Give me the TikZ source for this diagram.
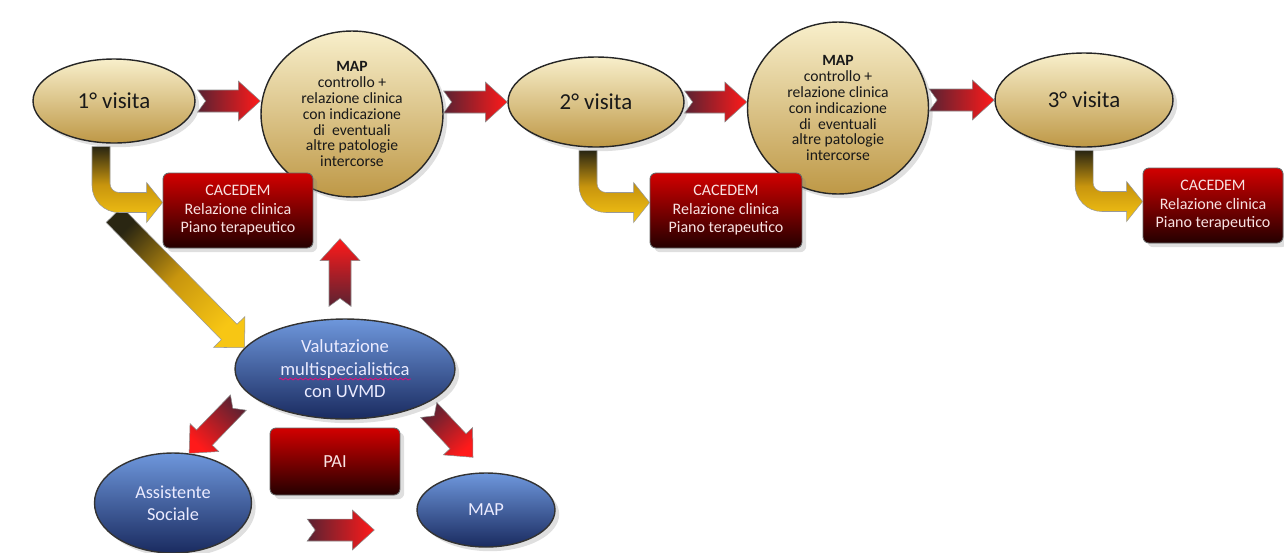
\documentclass[tikz,border=0pt]{standalone}
\usepackage{fontspec}
\setmainfont{Carlito}
\usepackage{tikz}
\usetikzlibrary{shapes.geometric, shadows, calc, decorations.pathmorphing}

\definecolor{goldtop}{HTML}{F8EFCB}
\definecolor{goldbot}{HTML}{BE9846}
\definecolor{rottop}{HTML}{D20000}
\definecolor{rotbot}{HTML}{240000}
\definecolor{blautop}{HTML}{6E97DC}
\definecolor{blaubot}{HTML}{1A2B60}
\definecolor{pfeilrot}{HTML}{FF1A1A}
\definecolor{pfeildunkel}{HTML}{5A2232}
\definecolor{gelbdunkel}{HTML}{2A2612}
\definecolor{gelbmitte}{HTML}{C8950E}
\definecolor{gelbhell}{HTML}{F7C614}
\definecolor{hellrosa}{HTML}{F8E2E2}

% Masse der Blockpfeile
\newcommand{\pfsw}{0.22cm} % halbe Schaftbreite
\newcommand{\pfhw}{0.40cm} % halbe Spitzenbreite
\newcommand{\pfhl}{0.44cm} % Spitzenlaenge
\newcommand{\pfnd}{0.16cm} % Kerbe am Ende

% Blockpfeil mit Kerbe: [Stil]{von}{nach}
\newcommand{\blockarrow}[3][]{%
	\coordinate (pf-s) at (#2);
	\coordinate (pf-e) at (#3);
	\coordinate (pf-h) at ($(pf-e)!\pfhl!(pf-s)$);
	\shadedraw[redarrow,#1] ($(pf-s)!\pfsw!90:(pf-e)$) -- ($(pf-s)!\pfnd!(pf-e)$) -- ($(pf-s)!\pfsw!-90:(pf-e)$)
		-- ($(pf-h)!\pfsw!-90:(pf-e)$) -- ($(pf-h)!\pfhw!-90:(pf-e)$) -- (pf-e)
		-- ($(pf-h)!\pfhw!90:(pf-e)$) -- ($(pf-h)!\pfsw!90:(pf-e)$) -- cycle;
}

% Knickpfeil nach unten und rechts: {von}{nach}
\newcommand{\bentarrow}[2]{%
	\coordinate (kp-a) at (#1);
	\coordinate (kp-t) at (#2);
	\coordinate (kp-c) at (kp-a |- kp-t);
	\shadedraw[goldarrow] ($(kp-a)+(-9,0)$) [rounded corners=0.54cm] -- ($(kp-c)+(-9,10)$) [sharp corners]
		-- ($(kp-t)+(-16,10)$) -- ($(kp-t)+(-16,20)$) -- (kp-t) -- ($(kp-t)+(-16,-20)$)
		-- ($(kp-t)+(-16,-10)$) [rounded corners=0.18cm] -- ($(kp-c)+(9,-10)$) [sharp corners] -- ($(kp-a)+(9,0)$) -- cycle;
}

\begin{document}
\begin{tikzpicture}[x=0.02cm, y=-0.02cm,
			visit/.style={ellipse, draw=black!85, line width=0.8pt, top color=goldtop, bottom color=goldbot,
				text=black!90, inner sep=1pt, align=center, drop shadow={opacity=0.25}},
			redbox/.style={rectangle, rounded corners=0.12cm, draw=black!60, line width=0.5pt, top color=rottop,
				bottom color=rotbot, text=hellrosa, align=center, drop shadow={opacity=0.25}},
			blueoval/.style={ellipse, draw=black!80, line width=0.8pt, top color=blautop, bottom color=blaubot,
				text=white!92!blue, inner sep=1pt, align=center, drop shadow={opacity=0.25}},
			redarrow/.style={top color=pfeildunkel, bottom color=pfeilrot, shading angle=90, draw=black!45, line width=0.3pt},
			goldarrow/.style={top color=gelbdunkel, bottom color=gelbhell, middle color=gelbmitte, draw=black!40, line width=0.3pt},
			font=\fontsize{9.1}{10.5}\selectfont]
			\useasboundingbox (0,0) rectangle (1284,552);
			% Visiten und MAP
			\node[visit, minimum width=3.24cm, minimum height=1.68cm, font=\fontsize{13}{15}\selectfont] (v1) at (114,101) {1° visita};
			\node[visit, minimum width=3.64cm, minimum height=3.32cm, font=\fontsize{8.9}{9.1}\selectfont] (m1) at (352,114)
				{\textbf{MAP}\\controllo +\\relazione clinica\\con indicazione\\di\ \ eventuali\\altre patologie\\intercorse};
			\node[visit, minimum width=3.52cm, minimum height=1.80cm, font=\fontsize{13}{15}\selectfont] (v2) at (596,102) {2° visita};
			\node[visit, minimum width=3.62cm, minimum height=3.44cm, font=\fontsize{8.9}{9.1}\selectfont] (m2) at (838,108)
				{\textbf{MAP}\\controllo +\\relazione clinica\\con indicazione\\di\ \ eventuali\\altre patologie\\intercorse};
			\node[visit, minimum width=3.56cm, minimum height=1.88cm, font=\fontsize{13}{15}\selectfont] (v3) at (1084,100) {3° visita};
			% CACEDEM Kaesten
			\node[redbox, minimum width=3.00cm, minimum height=1.50cm] (c1) at (238,210.5) {CACEDEM\\Relazione clinica\\Piano terapeutico};
			\node[redbox, minimum width=3.04cm, minimum height=1.50cm] (c2) at (726,210.5) {CACEDEM\\Relazione clinica\\Piano terapeutico};
			\node[redbox, minimum width=2.80cm, minimum height=1.50cm] (c3) at (1213,205.5) {CACEDEM\\Relazione clinica\\Piano terapeutico};
			% untere Gruppe
			\node[blueoval, minimum width=4.40cm, minimum height=2.00cm, font=\fontsize{10.6}{12.8}\selectfont] (val) at (345,369)
				{Valutazione\\multispecialistica\\con UVMD};
			\node[blueoval, minimum width=3.14cm, minimum height=2.00cm, font=\fontsize{10.4}{12.3}\selectfont] (as) at (173,503)
				{Assistente\\Sociale};
			\node[redbox, minimum width=2.60cm, minimum height=1.34cm, font=\fontsize{10.5}{12}\selectfont] (pai) at (335,461.5) {PAI};
			\node[blueoval, minimum width=2.76cm, minimum height=1.48cm, font=\fontsize{10.5}{12}\selectfont] (map) at (486,510) {MAP};
			% Wellenlinie unter dem Wort
			\draw[magenta!80!red, line width=0.4pt, decorate, decoration={snake, amplitude=0.2mm, segment length=1mm}]
				($(val.center)+(-66,10)$) -- ($(val.center)+(66,10)$);
			% rote Pfeile oben
			\blockarrow{$(v1.east)+(2,0)$}{v1.east -| m1.west}
			\blockarrow{v2.west -| m1.east}{v2.west}
			\blockarrow{v2.east}{v2.east -| m2.west}
			\blockarrow{v3.west -| m2.east}{v3.west}
			% rote Pfeile unten
			\blockarrow[shading angle=180]{$(val.north)+(-5,-12)$}{$(m1.south)+(-12,41)$}
			\blockarrow[shading angle=316]{$(val.200)+(-20,2)$}{as.72}
			\blockarrow[shading angle=43]{$(val.334)+(8,4)$}{$(map.north)+(-13,-15)$}
			\blockarrow{$(as.east)+(55,27)$}{$(map.west)+(-42,20)$}
			% gelber Pfeil zur Valutazione
			\begin{scope}
				\renewcommand{\pfnd}{0pt}
				\renewcommand{\pfhw}{0.44cm}
				\blockarrow[goldarrow, shading angle=45]{$(v1.south)+(0,71)$}{val.168}
			\end{scope}
			% gelbe Knickpfeile
			\bentarrow{$(v1.south)+(-13,3)$}{$(c1.west)+(0,-8)$}
			\bentarrow{$(v2.south)+(-8,3)$}{$(c2.west)+(0,-8)$}
			\bentarrow{$(v3.south)+(0,3)$}{$(c3.west)+(0,-4)$}
		\end{tikzpicture}
\end{document}
